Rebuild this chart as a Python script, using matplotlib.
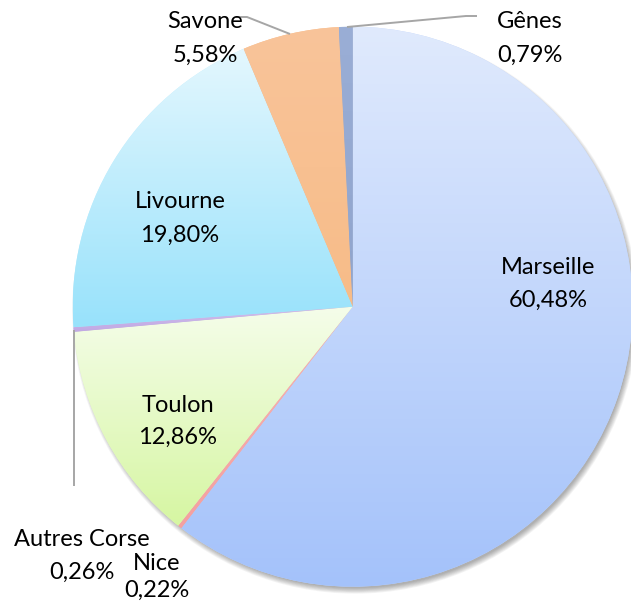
import numpy as np
import matplotlib
matplotlib.use('Agg')
import matplotlib.pyplot as plt
from matplotlib.colors import to_rgb
from matplotlib.patches import Circle

labels = ['Marseille', 'Nice', 'Toulon', 'Autres Corse', 'Livourne', 'Savone', 'Gênes']
values = [60.48, 0.22, 12.86, 0.26, 19.80, 5.58, 0.79]
pct_text = ['60,48%', '0,22%', '12,86%', '0,26%', '19,80%', '5,58%', '0,79%']
top_colors = ['#e0eafd', '#f8b4b4', '#f5fdea', '#d2c0ec', '#e4f7fe', '#f9c49a', '#9aaed6']
bottom_colors = ['#a4c2fa', '#f4a0a0', '#d6f6a2', '#c0a8e4', '#98e2fb', '#f7bc88', '#90a4cc']

# label positions (pixel coords from top-left): x, y of name line, y of percent line
label_pos = {
    'Marseille': (548, 268, 300),
    'Nice': (157, 564, 590),
    'Toulon': (178, 406, 437),
    'Autres Corse': (82, 540, 572),
    'Livourne': (180, 202, 235),
    'Savone': (205, 22, 55),
    'Gênes': (530, 22, 55),
}

W, H = 631, 605
fig = plt.figure(figsize=(W / 100, H / 100), dpi=100)
ax = fig.add_axes([0, 0, 1, 1])
cx, cy, R = 352.7, H - 306.7, 280

# soft shadow
for k in range(8):
    ax.add_patch(Circle((cx + 2.5, cy - 4), R + 3 - k * 0.8, facecolor='black',
                        edgecolor='none', alpha=0.045, zorder=0))

wedges, _ = ax.pie(values, startangle=90, counterclock=False, center=(cx, cy),
                   radius=R, frame=True,
                   wedgeprops=dict(linewidth=0))

for w, tc, bc in zip(wedges, top_colors, bottom_colors):
    ext = w.get_path().get_extents()
    t = np.linspace(0, 1, 256)[:, None]
    img = (1 - t)[..., None] * np.array(to_rgb(bc)) + t[..., None] * np.array(to_rgb(tc))
    mid = 0.5 * (np.array(to_rgb(tc)) + np.array(to_rgb(bc)))
    w.set_facecolor(mid)
    w.set_zorder(1)
    im = ax.imshow(img, extent=[ext.x0, ext.x1, ext.y0, ext.y1], origin='lower',
                   aspect='auto', interpolation='bilinear', zorder=2)
    im.set_clip_path(w)

def P(x, y):
    return x, H - y

txt_kw = dict(ha='center', va='center', fontsize=17, family='Lato', color='black', zorder=5)
for name, pct in zip(labels, pct_text):
    x, y1, y2 = label_pos[name]
    ax.text(*P(x, y1), name, **txt_kw)
    ax.text(*P(x, y2), pct, **txt_kw)

line_kw = dict(color='#a6a6a6', lw=1.4, zorder=4, solid_capstyle='butt')
# Savone leader
xs, ys = zip(*[P(236, 17), P(247, 17), P(290, 34)])
ax.plot(xs, ys, **line_kw)
# Gênes leader
xs, ys = zip(*[P(347, 27), P(466, 16), P(477, 16)])
ax.plot(xs, ys, **line_kw)
# Autres Corse leader
xs, ys = zip(*[P(74, 330), P(74, 486)])
ax.plot(xs, ys, **line_kw)

ax.set_xlim(0, W)
ax.set_ylim(0, H)
ax.set_aspect('auto')
ax.axis('off')
fig.savefig('out.png', dpi=100)
